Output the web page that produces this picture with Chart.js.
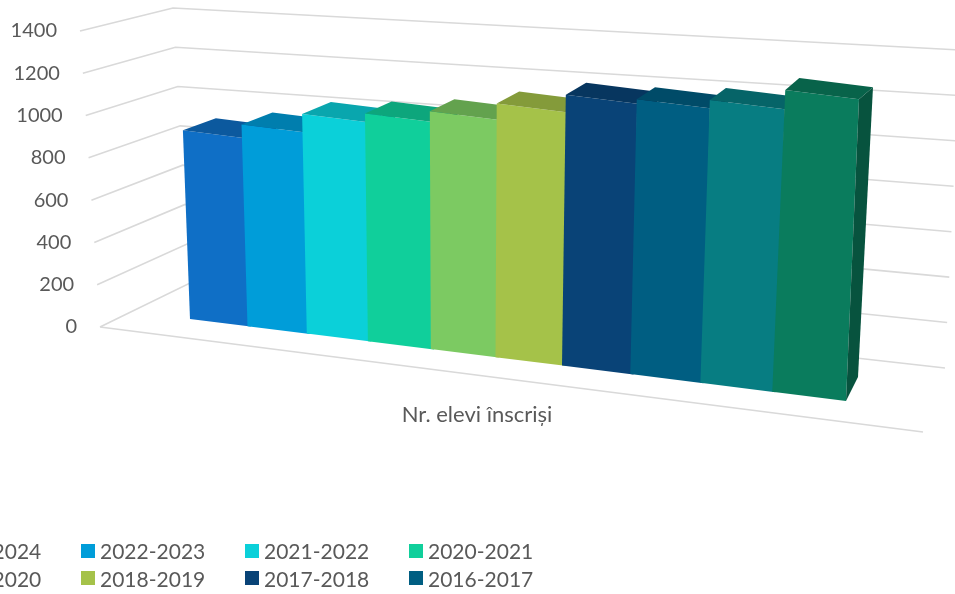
<!DOCTYPE html>
<html>
<head>
<meta charset="utf-8">
<script src="https://cdn.jsdelivr.net/npm/chart.js@4.4.1/dist/chart.umd.min.js"></script>
<style>
  html, body { margin: 0; padding: 0; background: #fff; overflow: hidden; }
  #wrap { position: relative; width: 955px; height: 594px; overflow: hidden; }
  #legend { position: absolute; left: 0; top: 0; width: 955px; height: 594px; pointer-events: none; }
  .leg-item { position: absolute; display: flex; align-items: center; white-space: nowrap;
              font: 21px Lato, sans-serif; line-height: 27px; color: #595959; }
  .leg-box { display: inline-block; width: 14px; height: 14px; margin-right: 5px; }
</style>
</head>
<body>
<div id="wrap">
  <canvas id="chart" width="955" height="594"></canvas>
  <div id="legend"></div>
</div>
<script>
const categories = ['Nr. elevi înscriși'];
const years = ['2023-2024', '2022-2023', '2021-2022', '2020-2021', '2019-2020',
               '2018-2019', '2017-2018', '2016-2017', '2015-2016', '2014-2015'];
const enrolled = [915, 967, 1040, 1065, 1098, 1156, 1218, 1220, 1239, 1304];
const barColors = ['#0F6FC6', '#009DD9', '#0BD0D9', '#10CF9B', '#7CCA62',
                   '#A5C249', '#094377', '#005E82', '#077D82', '#0A7C5D'];
const yTicks = [0, 200, 400, 600, 800, 1000, 1200, 1400];

// the excel 3d view (screen px)
function edgeX(f) { return 190 + 57.5 * f + 0.9 * f * (f - 1); }   // bar edges on the floor
function floorY(x) { return 319 + 0.125 * (x - 190); }             // front line of the bars
function pxPerUnit(x) { return 0.2062 + 0.0000433 * (x - 190); }   // bars get closer to the right
function lean(x) { return 0.000137 * (x - 495); }                  // verticals fan out

function shade(hex, k) {
    const n = parseInt(hex.slice(1), 16);
    const r = Math.round(((n >> 16) & 255) * k);
    const g = Math.round(((n >> 8) & 255) * k);
    const b = Math.round((n & 255) * k);
    return `rgb(${r},${g},${b})`;
}

function poly(ctx, pts, color) {
    ctx.beginPath();
    ctx.moveTo(pts[0][0], pts[0][1]);
    for (let i = 1; i < pts.length; i++) ctx.lineTo(pts[i][0], pts[i][1]);
    ctx.closePath();
    ctx.fillStyle = color;
    ctx.fill();
}

const perspective3d = {
    id: 'perspective3d',
    beforeDraw(chart) {
        // value labels sit on the slanted front edge of the side wall
        const ys = chart.scales.y;
        ys.getLabelItems().forEach((item, k) => {
            const v = ys.ticks[k].value;
            item.options.translation[0] = 77 - 20 * v / 1400;
        });
    },
    beforeDatasetsDraw(chart) {
        const ctx = chart.ctx;
        const ys = chart.scales.y;
        const y0 = ys.getPixelForValue(0);
        const top = ys.getPixelForValue(ys.max);
        const span = y0 - top;

        // side wall, back wall and floor
        ctx.save();
        ctx.strokeStyle = '#d9d9d9';
        ctx.lineWidth = 1.6;
        ctx.beginPath();
        ys.ticks.forEach(t => {
            const py = ys.getPixelForValue(t.value);
            const k = (y0 - py) / span;
            ctx.moveTo(100 - 20 * k, py);
            ctx.lineTo(190 - 17 * k, 283 - k * 275);
            ctx.lineTo(945 + 15 * k, 368 - k * 318);
        });
        ctx.moveTo(100, y0);
        ctx.lineTo(923, 432);
        ctx.stroke();
        ctx.restore();

        // bars left to right, each with its own projection
        const unit = (y0 - ys.getPixelForValue(1000)) / 1000;
        const n = chart.data.datasets.length;
        chart.data.datasets.forEach((ds, i) => {
            if (!chart.isDatasetVisible(i)) return;
            const meta = chart.getDatasetMeta(i);
            const el = meta.data[0];
            const { x, y, base, width } = el.getProps(['x', 'y', 'base', 'width'], true);
            const ul = x - width / 2, ur = x + width / 2;
            const xl = edgeX(i);
            const xr = edgeX(i + 1) + (i < n - 1 ? 3 : 0);
            const yl = floorY(xl), yr = floorY(xr);
            const r = pxPerUnit(xl) / unit;
            const L = lean((xl + xr) / 2);
            const a = (xr - xl) / width, b = (yr - yl) / width;
            const c = -L * r, d = r;
            const e = xl - a * ul + L * r * base;
            const f = yl - b * ul - r * base;
            const P = (u, w) => [a * u + c * w + e, b * u + d * w + f];

            ctx.save();
            ctx.transform(a, b, c, d, e, f);
            meta.controller.draw();
            ctx.restore();

            const tl = P(ul, y), tr = P(ur, y), br = P(ur, base);
            const dx = 33 - 19 * i / 9, dy = -12;
            poly(ctx, [tl, tr, [tr[0] + dx, tr[1] + dy], [tl[0] + dx, tl[1] + dy]], shade(barColors[i], 0.8));
            poly(ctx, [tr, br, [br[0] + dx - 2, br[1] - 24], [tr[0] + dx, tr[1] + dy]], shade(barColors[i], 0.67));
        });
        return false;
    }
};

const datasets = years.map((yr, i) => ({
    label: yr,
    data: [enrolled[i]],
    backgroundColor: barColors[i],
    borderWidth: 0
}));

const chart = new Chart(document.getElementById('chart'), {
    type: 'bar',
    data: { labels: categories, datasets: datasets },
    options: {
        responsive: false,
        animation: false,
        events: [],
        layout: { padding: { top: 31, left: 0, right: 81, bottom: 0 } },
        datasets: { bar: { categoryPercentage: 0.84, barPercentage: 1 } },
        plugins: { legend: { display: false }, tooltip: { enabled: false } },
        scales: {
            x: {
                afterFit: scale => { scale.height = 267; },
                grid: { display: false, drawTicks: false },
                border: { display: false },
                ticks: { color: '#595959', font: { family: 'Lato', size: 22 }, padding: 75 }
            },
            y: {
                min: 0,
                max: 1400,
                afterBuildTicks: scale => { scale.ticks = yTicks.map(v => ({ value: v })); },
                afterFit: scale => { scale.width = 80; },
                grid: { display: false, drawTicks: false },
                border: { display: false },
                ticks: {
                    color: '#595959',
                    font: { family: 'Lato', size: 20 },
                    padding: 8,
                    callback: value => String(value)
                }
            }
        }
    },
    plugins: [perspective3d]
});

// legend: four per row, the picture is cropped on the left and bottom
document.getElementById('legend').innerHTML = years.map((yr, i) => `
    <div class="leg-item" style="left:${-83 + (i % 4) * 164}px; top:${537 + Math.floor(i / 4) * 27.5}px">
        <span class="leg-box" style="background:${barColors[i]}"></span>${yr}
    </div>`).join('');
</script>
</body>
</html>
